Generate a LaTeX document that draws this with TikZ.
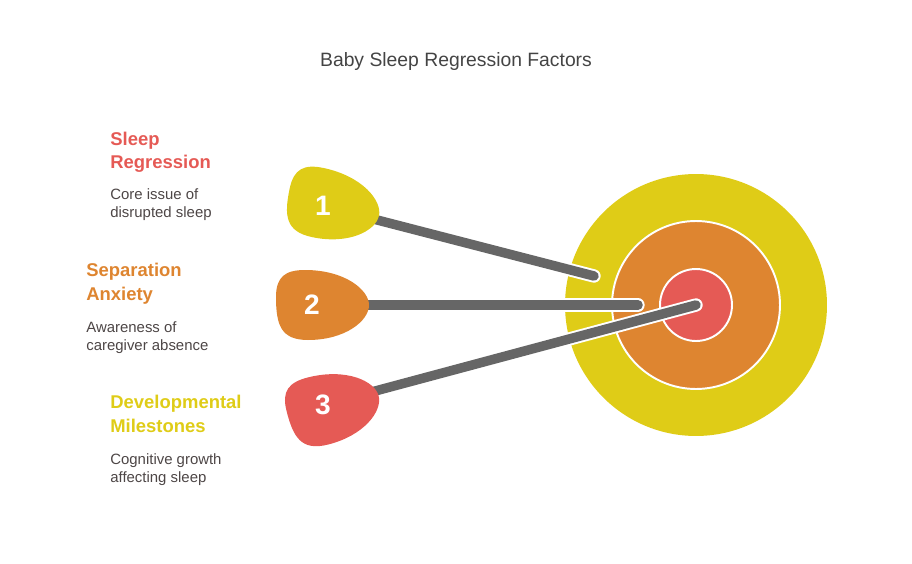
\documentclass[tikz,border=0pt]{standalone}
\usepackage{fontspec}
\setmainfont{Liberation Sans}
\pgfdeclarelayer{bg}
\pgfsetlayers{bg,main}

\definecolor{ylw}{HTML}{DFCC17}
\definecolor{org}{HTML}{DE8530}
\definecolor{rd}{HTML}{E55A55}
\definecolor{bar}{HTML}{666666}
\definecolor{txt}{HTML}{4D4646}
\definecolor{ttl}{HTML}{444444}

% rounded drop, tip to the right, local pixel units
\newcommand{\dropshape}{(46,0) .. controls (46,-15) and (22,-35) .. (-18,-35)
  .. controls (-38,-35) and (-47,-28) .. (-47,-8)
  .. controls (-47,20) and (-42,35) .. (-15,35)
  .. controls (22,35) and (46,16) .. cycle}

\begin{document}
\begin{tikzpicture}[x=0.02cm, y=-0.02cm,
  ring/.style={circle, fill=#1, draw=white, line width=1.1pt, inner sep=0pt},
  num/.style={text=white, inner sep=0pt, font=\fontsize{16}{16}\selectfont\bfseries},
  head/.style={anchor=base west, align=left, inner sep=0pt, text=#1,
    font=\fontsize{10.5}{13.6}\selectfont\bfseries},
  desc/.style={anchor=base west, align=left, inner sep=0pt, text=txt,
    font=\fontsize{8.5}{10.2}\selectfont},
  link/.style={draw=white, line width=1.1pt, double=bar, double distance=5.4pt, line cap=round}]
  \useasboundingbox (0,0) rectangle (912,564);

  \node[text=ttl, font=\fontsize{11}{13}\selectfont] (title) at (456,62) {Baby Sleep Regression Factors};

  % target
  \begin{pgfonlayer}{bg}
    \node[ring=ylw, draw=none, minimum size=5.24cm] (outer) at (696,305) {};
    \node[ring=org, minimum size=3.36cm] (middle) at (outer.center) {};
    \node[ring=rd, minimum size=1.44cm] (core) at (outer.center) {};
  \end{pgfonlayer}
  \coordinate (e1) at (594,276);
  \coordinate (e2) at (638,305);

  % drops
  \fill[ylw, shift={(334,206)}, rotate=-12] \dropshape;
  \fill[org, shift={(323,305)}] \dropshape;
  \fill[rd, shift={(334,407)}, rotate=14] \dropshape;
  \node[num] (n1) at (323,206) {1};
  \node[num] (n2) at (312,305) {2};
  \node[num] (n3) at (323,405) {3};

  \begin{pgfonlayer}{bg}
    \draw[link] (n1.center) -- (e1);
    \draw[link] (n2.center) -- (e2);
    \draw[link] (n3.center) -- (core.center);
  \end{pgfonlayer}

  % labels (base = last line)
  \node[head=rd] (h1) at (110,169) {Sleep\\Regression};
  \node[desc] (d1) at (110,217) {Core issue of\\disrupted sleep};
  \node[head=org] (h2) at (86,300) {Separation\\Anxiety};
  \node[desc] (d2) at (86,350) {Awareness of\\caregiver absence};
  \node[head=ylw] (h3) at (110,432) {Developmental\\Milestones};
  \node[desc] (d3) at (110,482) {Cognitive growth\\affecting sleep};
\end{tikzpicture}
\end{document}
